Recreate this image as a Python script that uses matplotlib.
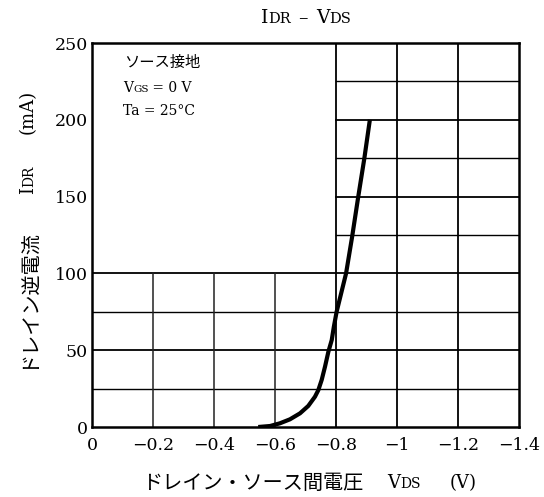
import matplotlib
matplotlib.use("Agg")
import matplotlib.pyplot as plt
from matplotlib.transforms import IdentityTransform

# ---- data ----
vds = [-0.545, -0.584, -0.616, -0.649, -0.682, -0.709, -0.731, -0.742, -0.753,
       -0.764, -0.775, -0.786, -0.793, -0.802, -0.833, -0.853, -0.873, -0.893, -0.911]
idr = [0, 0.65, 2.4, 5.0, 8.9, 13.7, 19.7, 24, 30.6,
       39.3, 49, 56.6, 65.3, 75, 100, 124, 150, 175, 200]

x_ticks = [0, -0.2, -0.4, -0.6, -0.8, -1.0, -1.2, -1.4]
x_tick_labels = ["0", "\u22120.2", "\u22120.4", "\u22120.6", "\u22120.8", "\u22121", "\u22121.2", "\u22121.4"]
y_ticks = [0, 50, 100, 150, 200, 250]
y_tick_labels = ["0", "50", "100", "150", "200", "250"]

# grid layout values
low_h = [25, 50, 75, 100]
up_h = [125, 150, 175, 200, 225]
low_v = [-0.2, -0.4, -0.6]
full_v = [-0.8, -1.0, -1.2]

SERIF = "DejaVu Serif"
CJK = "Noto Sans CJK JP"

W, H = 544, 497
fig = plt.figure(figsize=(W / 100, H / 100), dpi=100)
ax = fig.add_axes([92 / W, (H - 427) / H, 427 / W, 384 / H])
ax.set_xlim(0, -1.4)
ax.set_ylim(0, 250)

# grid
for y in low_h:
    lw = 1.3 if y % 50 == 0 else 1.0
    ax.plot([0, -1.4], [y, y], color="black", lw=lw, zorder=1)
for y in up_h:
    lw = 1.3 if y % 50 == 0 else 1.0
    ax.plot([-0.8, -1.4], [y, y], color="black", lw=lw, zorder=1)
for x in low_v:
    ax.plot([x, x], [0, 100], color="#222222", lw=1.1, zorder=1)
for x in full_v:
    ax.plot([x, x], [0, 250], color="black", lw=1.3, zorder=1)

ax.plot(vds, idr, color="black", lw=3.0, solid_capstyle="butt",
        solid_joinstyle="round", zorder=3)

for s in ax.spines.values():
    s.set_linewidth(1.8)
ax.tick_params(length=0)
ax.set_xticks(x_ticks)
ax.set_xticklabels(x_tick_labels, family=SERIF, fontsize=12.5)
ax.set_yticks(y_ticks)
ax.set_yticklabels(y_tick_labels, family=SERIF, fontsize=12.5)
ax.tick_params(axis="x", pad=7)
ax.tick_params(axis="y", pad=3)

renderer = fig.canvas.get_renderer()


def seq(pieces, x0, y0, rotation=0, align="left"):
    """pieces: list of (text, size, family) or gap in px (number)."""
    widths = []
    for p in pieces:
        if isinstance(p, (int, float)):
            widths.append(p)
        else:
            t = fig.text(0, 0, p[0], fontsize=p[1], family=p[2], transform=IdentityTransform())
            widths.append(t.get_window_extent(renderer).width)
            t.remove()
    total = sum(widths)
    pos = -total / 2 if align == "center" else 0
    for p, w in zip(pieces, widths):
        if not isinstance(p, (int, float)):
            if rotation == 0:
                x, y = x0 + pos, y0
            else:
                x, y = x0, y0 + pos
            fig.text(x, y, p[0], fontsize=p[1], family=p[2], transform=IdentityTransform(),
                     rotation=rotation, rotation_mode="anchor", ha="left", va="baseline")
        pos += w


# title
seq([("I", 13.5, SERIF), ("DR", 10.5, SERIF), 8, ("\u2013", 13.5, SERIF), 8,
     ("V", 13.5, SERIF), ("DS", 10.5, SERIF)], 306, H - 23, align="center")

# x label
seq([("ドレイン・ソース間電圧", 14.5, CJK)], 142, H - 489)
seq([("V", 13, SERIF), ("DS", 10, SERIF)], 387, H - 488)
seq([("(V)", 13, SERIF)], 450, H - 488)

# y label
seq([("ドレイン逆電流", 14.5, CJK)], 34, H - 369, rotation=90)
seq([("I", 13, SERIF), ("DR", 10, SERIF)], 33, H - 194, rotation=90)
seq([("(mA)", 13, SERIF)], 33, H - 134, rotation=90)

# annotation
seq([("ソース接地", 11, CJK)], 124, H - 67)
seq([("V", 10, SERIF), ("GS", 7.5, SERIF), (" = 0 V", 10, SERIF)], 123, H - 92)
seq([("Ta = 25°C", 10, SERIF)], 123, H - 115)

fig.savefig("out.png", dpi=100)
